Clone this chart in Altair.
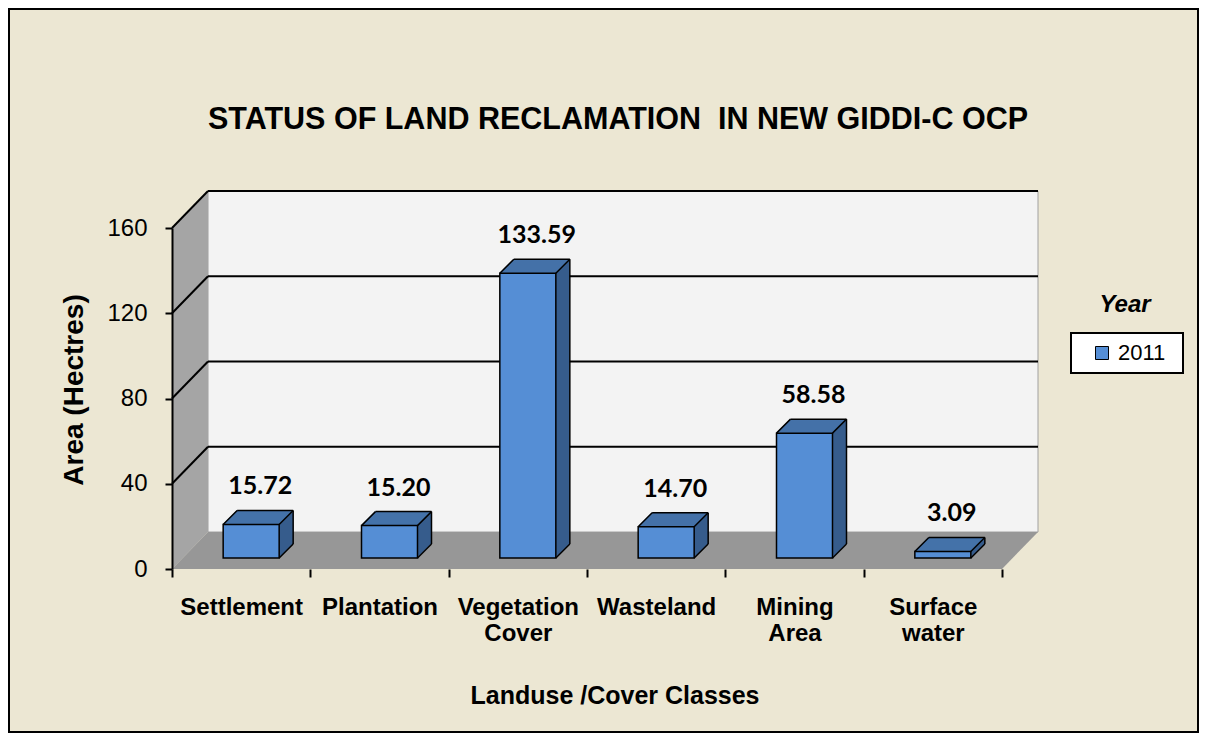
import altair as alt
import pandas as pd

# ---------------- data ----------------
CATEGORIES = ["Settlement", "Plantation", "Vegetation Cover", "Wasteland", "Mining Area", "Surface water"]
VALUES = [15.72, 15.20, 133.59, 14.70, 58.58, 3.09]
LABELS = ["15.72", "15.20", "133.59", "14.70", "58.58", "3.09"]
YEAR = "2011"
Y_TICKS = [0, 40, 80, 120, 160]
GRID = [40, 80, 120, 160]
TITLE = "STATUS OF LAND RECLAMATION\u00a0 IN NEW GIDDI-C OCP"
X_TITLE = "Landuse /Cover Classes"
Y_TITLE = "Area (Hectres)"
LEGEND_TITLE = "Year"

# ---------------- layout / style ----------------
W, H = 830, 341          # front plot plane
PAD_L, PAD_T = 164, 220
TOTAL_W, TOTAL_H = 1191, 725
DX, DY = 36, 37          # wall depth
BX, BY = 10, 11          # bar plane shift
BD = 14                  # bar depth
BW = 56                  # bar width

BG = "#ECE7D3"
WALL = "#F3F3F3"
SIDE_WALL = "#A5A5A5"
FLOOR = "#979797"
FRONT = "#558ED5"
TOP = "#4572A9"
SIDE = "#375D8C"
ARIAL = "Liberation Sans"

df = pd.DataFrame({"Category": CATEGORIES, "Value": VALUES, "Label": LABELS, "Year": [YEAR] * len(CATEGORIES)})
grid_df = pd.DataFrame({"Value": GRID})
one = pd.DataFrame({"t": [TITLE]})

xscale = alt.Scale(domain=CATEGORIES, paddingInner=0, paddingOuter=0)
yscale = alt.Scale(domain=[0, 160], nice=False, zero=True)

x_axis = alt.Axis(
    title=X_TITLE, domain=False, ticks=True, tickBand="extent", tickColor="black",
    tickWidth=2, tickSize=8, labelAngle=0, labelFont=ARIAL, labelFontSize=24,
    labelFontWeight="bold", labelColor="black", labelExpr="split(datum.label, ' ')",
    labelLineHeight=26, labelPadding=18, titleFont=ARIAL, titleFontSize=25,
    titleFontWeight="bold", titleColor="black", titleX=442.5, titleY=134,
    titleBaseline="alphabetic", titleAlign="center", zindex=2,
)
y_axis = alt.Axis(
    values=Y_TICKS, title=Y_TITLE, grid=False, domainColor="black", domainWidth=2,
    tickColor="black", tickWidth=2, tickSize=7, labelFont=ARIAL, labelFontSize=24,
    labelColor="black", labelPadding=18, titleFont=ARIAL, titleFontSize=28,
    titleFontWeight="bold", titleColor="black", titleAngle=270, titleX=-90,
    titleY=161.5, titleAlign="center", titleBaseline="alphabetic", zindex=2,
)

XE = alt.X("Category:N", sort=CATEGORIES, scale=xscale, axis=x_axis)
YE = alt.Y("Value:Q", scale=yscale, axis=y_axis)

# ---------------- decoration (walls, frame, texts) ----------------
deco = []
deco.append(alt.Chart(one).mark_rect(fillOpacity=0, stroke="black", strokeWidth=2).encode(
    x=alt.value(-PAD_L + 1), x2=alt.value(TOTAL_W - PAD_L - 1),
    y=alt.value(-PAD_T + 1), y2=alt.value(TOTAL_H - PAD_T - 1)))
deco.append(alt.Chart(one).mark_rect(fill=WALL, stroke="#A0A0A0", strokeWidth=1).encode(
    x=alt.value(DX), x2=alt.value(W + DX), y=alt.value(-DY), y2=alt.value(H - DY)))
side_df = pd.DataFrame({"px": [0, DX], "top": [0, -DY], "bot": [H, H - DY]})
deco.append(alt.Chart(side_df).mark_area(color=SIDE_WALL, orient="vertical").encode(
    x=alt.X("px:Q", scale=None, axis=None),
    y=alt.Y("top:Q", scale=None, axis=None),
    y2="bot:Q"))
floor_df = pd.DataFrame({"py": [H - DY, H], "xl": [DX, 0], "xr": [W + DX, W]})
deco.append(alt.Chart(floor_df).mark_area(color=FLOOR, orient="horizontal").encode(
    y=alt.Y("py:Q", scale=None, axis=None),
    x=alt.X("xl:Q", scale=None, axis=None),
    x2="xr:Q"))
# legend box
deco.append(alt.Chart(one).mark_rect(fill="white", stroke="black", strokeWidth=2).encode(
    x=alt.value(899), x2=alt.value(1011), y=alt.value(105), y2=alt.value(145)))
# chart title
deco.append(alt.Chart(one).mark_text(
    font=ARIAL, fontSize=30.5, fontWeight="bold", color="black", align="center",
    baseline="alphabetic").encode(x=alt.value(446), y=alt.value(-99), text="t:N"))
# legend title
deco.append(alt.Chart(pd.DataFrame({"t": [LEGEND_TITLE]})).mark_text(
    font=ARIAL, fontSize=24, fontWeight="bold", fontStyle="italic", color="black",
    align="center", baseline="alphabetic").encode(x=alt.value(953), y=alt.value(84), text="t:N"))

# ---------------- data layers ----------------
main = []
main.append(alt.Chart(grid_df).mark_rule(color="black", strokeWidth=2, yOffset=-DY).encode(
    y=YE, x=alt.value(DX), x2=alt.value(W + DX)))
main.append(alt.Chart(grid_df).mark_rule(color="black", strokeWidth=2, y2Offset=-DY).encode(
    y=YE, y2="Value:Q", x=alt.value(0), x2=alt.value(DX)))

for k in range(BD, 0, -1):
    main.append(alt.Chart(df).mark_bar(
        width=BW, color=SIDE, xOffset=BX + k, yOffset=-BY - k, y2Offset=-BY - k).encode(
        x=XE, y=YE, y2=alt.datum(0)))
for k in range(1, BD):
    main.append(alt.Chart(df).mark_tick(
        orient="horizontal", size=BW, thickness=2, color=TOP, opacity=1,
        xOffset=BX + k, yOffset=-BY - k).encode(x=XE, y=YE))

main.append(alt.Chart(df).mark_tick(
    orient="horizontal", size=BW, thickness=1.5, color="black", opacity=1,
    xOffset=BX + BD, yOffset=-BY - BD).encode(x=XE, y=YE))
main.append(alt.Chart(df).mark_rule(
    color="black", strokeWidth=1.5, xOffset=BX + BW / 2 + BD,
    yOffset=-BY - BD, y2Offset=-BY - BD).encode(x=XE, y=YE, y2=alt.datum(0)))
for sx, use_zero in [(-BW / 2, False), (BW / 2, False), (BW / 2, True)]:
    main.append(alt.Chart(df).mark_rule(
        color="black", strokeWidth=1.5, xOffset=BX + sx, x2Offset=BX + sx + BD,
        yOffset=-BY, y2Offset=-BY - BD).encode(
        x=XE, x2="Category:N",
        y=alt.Y(datum=0, scale=yscale, axis=y_axis) if use_zero else YE,
        y2=alt.datum(0) if use_zero else "Value:Q"))

main.append(alt.Chart(df).mark_bar(
    width=BW, stroke="black", strokeWidth=1.5, xOffset=BX, yOffset=-BY, y2Offset=-BY).encode(
    x=XE, y=YE, y2=alt.datum(0),
    color=alt.Color("Year:N", scale=alt.Scale(domain=[YEAR], range=[FRONT]),
                    legend=alt.Legend(
                        title=None, orient="none", legendX=899, legendY=105,
                        padding=9, symbolType="square", symbolSize=169,
                        symbolStrokeColor="black", symbolStrokeWidth=1, symbolOffset=11,
                        labelFont=ARIAL, labelFontSize=22, labelColor="black",
                        labelOffset=5))))

main.append(alt.Chart(df).mark_text(
    font="Lato", fontSize=25, fontWeight="bold", color="black", dx=BX + 9, dy=-BY - 30,
    baseline="alphabetic", align="center").encode(x=XE, y=YE, text="Label:N"))

chart = alt.layer(alt.layer(*deco), alt.layer(*main)).resolve_scale(
    x="independent", y="independent").properties(
    width=W, height=H,
    padding={"left": PAD_L, "top": PAD_T, "right": TOTAL_W - PAD_L - W, "bottom": TOTAL_H - PAD_T - H},
    autosize=alt.AutoSizeParams(type="none"),
    background=BG,
).configure_view(stroke=None)

chart.save("out.html", embed_options={"renderer": "svg", "actions": False})
